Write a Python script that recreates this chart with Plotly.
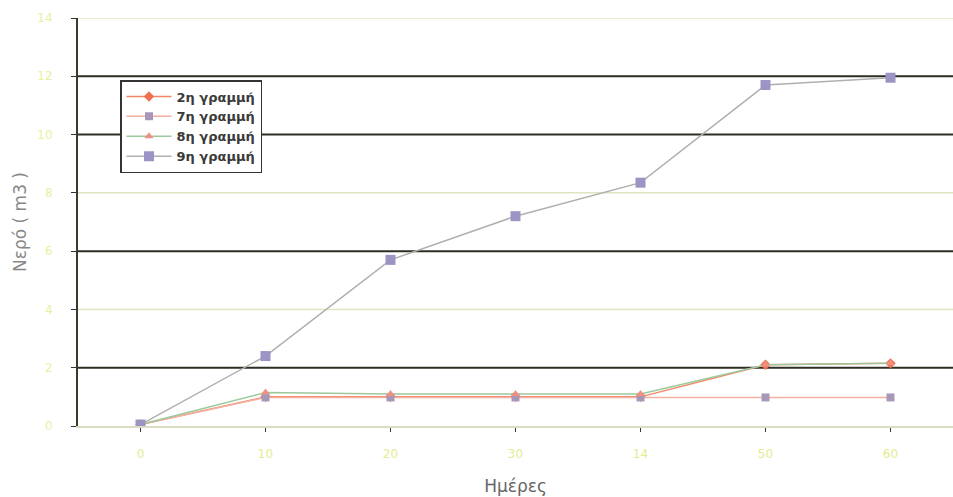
import plotly.graph_objects as go

categories = ["0", "10", "20", "30", "14", "50", "60"]
series_names = ["2η γραμμή", "7η γραμμή", "8η γραμμή", "9η γραμμή"]
s2 = [0.05, 1.0, 1.0, 1.0, 1.0, 2.1, 2.15]
s7 = [0.05, 0.98, 0.98, 0.98, 0.98, 0.98, 0.98]
s8 = [0.05, 1.15, 1.1, 1.1, 1.1, 2.1, 2.15]
s9 = [0.05, 2.4, 5.7, 7.2, 8.35, 11.7, 11.95]
y_ticks = [0, 2, 4, 6, 8, 10, 12, 14]
dark_grid = [2, 6, 10, 12]
light_grid = [4, 8, 14]

line_colors = ["#f08866", "#f4b0a0", "#9cc89c", "#b0b0b0"]
marker_colors = ["#f07050", "#a898b8", "#f09080", "#9c94c4"]
marker_symbols = ["diamond", "square", "triangle-up", "square"]
marker_sizes = [8, 8, 8, 10]

fig = go.Figure()
for name, vals, lc, mc, ms, sz in zip(series_names, [s2, s7, s8, s9], line_colors,
                                      marker_colors, marker_symbols, marker_sizes):
    fig.add_trace(go.Scatter(
        x=list(range(len(categories))), y=vals, name=name, mode="lines+markers",
        line=dict(color=lc, width=1.5),
        marker=dict(color=mc, symbol=ms, size=sz),
    ))

for g in dark_grid:
    fig.add_shape(type="line", xref="paper", x0=0, x1=1, yref="y", y0=g, y1=g,
                  line=dict(color="#2e2e24", width=2), layer="between")
for g in light_grid:
    fig.add_shape(type="line", xref="paper", x0=0, x1=1, yref="y", y0=g, y1=g,
                  line=dict(color="#e0e4c0", width=1.5), layer="between")

fig.update_layout(
    width=953, height=497,
    margin=dict(l=78, r=0, t=18, b=71),
    paper_bgcolor="white", plot_bgcolor="white",
    showlegend=True,
    legend=dict(x=0.048, y=0.848, xanchor="left", yanchor="top",
                bgcolor="white", bordercolor="#333333", borderwidth=1.5,
                font=dict(family="DejaVu Sans", size=13, color="#3a3a3a", weight="bold"),
                tracegroupgap=2, itemwidth=45),
    xaxis=dict(
        range=[-0.5, 6.5], tickmode="array",
        tickvals=list(range(len(categories))), ticktext=categories,
        tickson="boundaries", ticks="outside", ticklen=4, tickcolor="#333333",
        showgrid=False, showline=True, linecolor="#dcdcc0", linewidth=2,
        tickfont=dict(family="DejaVu Sans", size=12, color="#e4ec90"),
        ticklabelstandoff=12,
        title=dict(text="Ημέρες", font=dict(family="DejaVu Sans", size=17, color="#666666"),
                   standoff=20),
        zeroline=False,
    ),
    yaxis=dict(
        range=[0, 14], tickvals=y_ticks,
        ticks="outside", ticklen=5, tickcolor="#333333",
        showgrid=False,
        showline=True, linecolor="#3a3a2a", linewidth=2,
        tickfont=dict(family="DejaVu Sans", size=12, color="#e8f0a0"),
        ticklabelstandoff=16,
        title=dict(text="Νερό ( m3 )", font=dict(family="DejaVu Sans", size=17, color="#888888"),
                   standoff=6),
        zeroline=False,
    ),
)

fig.write_html("out.html")
